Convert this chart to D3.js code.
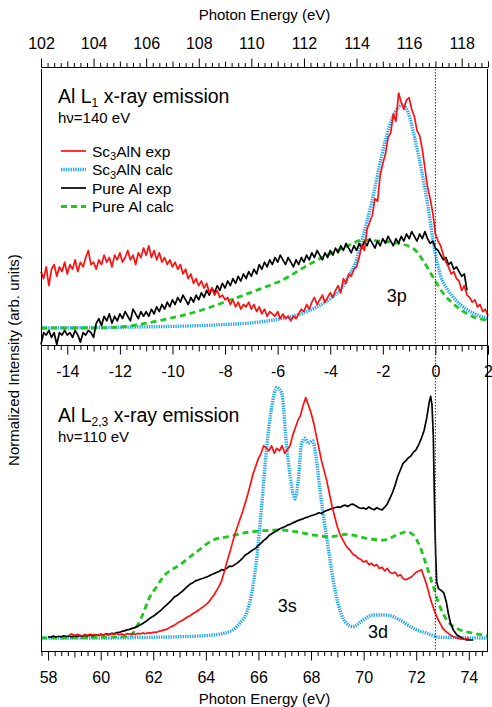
<!DOCTYPE html>
<html>
  <head>
    <meta charset="utf-8">
    <script src="https://d3js.org/d3.v7.min.js"></script>
    <title>Al L x-ray emission</title>
    <style>
      body { margin: 0px; background: #fff; }
      text { font-family: "Liberation Sans", Arial, sans-serif; fill: #000; }
      .tick text { font-size: 16px; }
      .axis-label { font-size: 15px; }
      .domain { stroke: #000; }
    </style>
  </head>
  <body>
    <svg width="492" height="707"></svg>
    <script>

      // ---- data: relative energy (eV) for the L1 panel, photon energy for L2,3 ----
      // Sc3AlN exp, L1, sampled every 0.1 eV from -15
      const redL1 = [
        0.24, 0.21, 0.26, 0.18, 0.25, 0.27, 0.22, 0.26, 0.24, 0.28,
        0.23, 0.27, 0.25, 0.29, 0.24, 0.28, 0.26, 0.30, 0.33, 0.27,
        0.28, 0.25, 0.29, 0.27, 0.31, 0.28, 0.30, 0.26, 0.31, 0.29,
        0.32, 0.28, 0.30, 0.33, 0.29, 0.31, 0.27, 0.32, 0.30, 0.34,
        0.31, 0.35, 0.30, 0.33, 0.29, 0.32, 0.28, 0.30, 0.27, 0.29,
        0.26, 0.28, 0.25, 0.27, 0.23, 0.25, 0.21, 0.23, 0.19, 0.21,
        0.18, 0.20, 0.17, 0.19, 0.15, 0.17, 0.14, 0.16, 0.13, 0.14,
        0.12, 0.13, 0.10, 0.12, 0.09, 0.11, 0.08, 0.10, 0.09, 0.11,
        0.08, 0.10, 0.07, 0.09, 0.06, 0.08, 0.05, 0.07, 0.06, 0.05,
        0.07, 0.04, 0.06, 0.04, 0.05, 0.03, 0.05, 0.04, 0.06, 0.08,
        0.07, 0.10, 0.08, 0.11, 0.13, 0.10, 0.12, 0.14, 0.11, 0.13,
        0.15, 0.13, 0.16, 0.18, 0.15, 0.21, 0.19, 0.23, 0.22, 0.25,
        0.26, 0.30, 0.35, 0.33, 0.42, 0.45, 0.48, 0.55, 0.54, 0.65,
        0.70, 0.74, 0.81, 0.83, 0.91, 0.88, 1.00, 0.96, 0.93, 0.97,
        0.98, 0.93, 0.90, 0.84, 0.82, 0.76, 0.68, 0.60, 0.55, 0.49,
        0.40, 0.37, 0.35, 0.31, 0.28, 0.26, 0.23, 0.24, 0.21, 0.20,
        0.16, 0.18, 0.14, 0.13, 0.11, 0.12, 0.09, 0.10, 0.07, 0.08,
        0.05
      ];
      // Pure Al exp, L1, every 0.1 eV from -15
      const blackL1 = [
        -0.07, -0.02, -0.03, -0.01, -0.04, -0.02, -0.07, -0.02, -0.03, -0.01,
        -0.03, -0.02, -0.04, -0.01, -0.03, -0.06, -0.02, -0.03, -0.01, -0.02,
        -0.04, 0.02, 0.04, 0.01, 0.05, 0.03, 0.06, 0.02, 0.05, 0.03,
        0.06, 0.04, 0.07, 0.05, 0.03, 0.08, 0.06, 0.04, 0.07, 0.05,
        0.07, 0.05, 0.08, 0.06, 0.09, 0.07, 0.10, 0.08, 0.11, 0.09,
        0.12, 0.10, 0.13, 0.11, 0.14, 0.12, 0.10, 0.13, 0.11, 0.14,
        0.12, 0.15, 0.13, 0.16, 0.14, 0.17, 0.15, 0.18, 0.16, 0.19,
        0.17, 0.20, 0.18, 0.21, 0.19, 0.22, 0.20, 0.23, 0.21, 0.24,
        0.22, 0.25, 0.23, 0.27, 0.25, 0.28, 0.26, 0.29, 0.27, 0.30,
        0.28, 0.31, 0.29, 0.27, 0.30, 0.28, 0.26, 0.29, 0.27, 0.30,
        0.28, 0.31, 0.29, 0.32, 0.30, 0.33, 0.31, 0.29, 0.32, 0.30,
        0.33, 0.31, 0.34, 0.32, 0.35, 0.33, 0.36, 0.34, 0.32, 0.35,
        0.33, 0.36, 0.34, 0.37, 0.35, 0.38, 0.36, 0.34, 0.37, 0.35,
        0.38, 0.36, 0.39, 0.37, 0.35, 0.38, 0.36, 0.39, 0.37, 0.40,
        0.38, 0.41, 0.39, 0.37, 0.40, 0.38, 0.41, 0.38, 0.36, 0.37,
        0.34, 0.33, 0.31, 0.29, 0.30, 0.27, 0.28, 0.25, 0.26, 0.24,
        0.22, 0.23, 0.16
      ];
      // Sc3AlN calc, L1 [E - 117 eV, intensity]
      const blueL1 = [
        [-15, 0], [-13, 0.002], [-11, 0.005], [-9, 0.01], [-8, 0.015], [-7, 0.022],
        [-6, 0.037], [-5, 0.065], [-4.5, 0.09], [-4, 0.125], [-3.5, 0.18], [-3.3, 0.22],
        [-3.0, 0.29], [-2.8, 0.37], [-2.4, 0.545], [-2.05, 0.73], [-1.67, 0.885],
        [-1.4, 0.94], [-1.25, 0.95], [-1.03, 0.915], [-0.8, 0.814], [-0.53, 0.672],
        [-0.28, 0.516], [-0.05, 0.346], [0.21, 0.218], [0.45, 0.165], [0.7, 0.128],
        [1.22, 0.077], [1.6, 0.055], [2, 0.04]
      ];
      // Pure Al calc, L1
      const greenL1 = [
        [-15, 0], [-12.9, 0], [-11.6, 0.009], [-10.4, 0.034], [-9.1, 0.069], [-7.8, 0.119],
        [-6.6, 0.169], [-5.9, 0.2], [-4.7, 0.277], [-3.4, 0.346], [-2.76, 0.374],
        [-2.1, 0.37], [-1.5, 0.362], [-0.86, 0.34], [-0.48, 0.289], [-0.1, 0.218],
        [0.29, 0.149], [0.81, 0.091], [1.43, 0.048], [2, 0.032]
      ];

      // Sc3AlN exp, L2,3, every 0.1 eV from 58.8 eV
      const redL23 = [
        0.012, 0.016, 0.010, 0.014, 0.012, 0.008, 0.014, 0.011, 0.015, 0.012,
        0.013, 0.010, 0.016, 0.012, 0.015, 0.011, 0.017, 0.014, 0.018, 0.013,
        0.016, 0.012, 0.017, 0.015, 0.019, 0.014, 0.018, 0.016, 0.020, 0.017,
        0.021, 0.019, 0.023, 0.022, 0.026, 0.028, 0.032, 0.034, 0.040, 0.046,
        0.050, 0.058, 0.064, 0.069, 0.076, 0.083, 0.088, 0.096, 0.102, 0.109,
        0.116, 0.124, 0.132, 0.141, 0.155, 0.168, 0.186, 0.204, 0.226, 0.262,
        0.300, 0.335, 0.372, 0.41, 0.44, 0.47, 0.50, 0.535, 0.57, 0.61,
        0.65, 0.68, 0.71, 0.73, 0.76, 0.75, 0.74, 0.76, 0.73, 0.75,
        0.74, 0.76, 0.73, 0.745, 0.76, 0.80, 0.83, 0.86, 0.88, 0.92,
        0.95, 0.92, 0.89, 0.85, 0.80, 0.75, 0.70, 0.66, 0.62, 0.57,
        0.52, 0.48, 0.44, 0.41, 0.39, 0.37, 0.355, 0.345, 0.33, 0.325,
        0.315, 0.31, 0.30, 0.305, 0.29, 0.295, 0.285, 0.29, 0.275, 0.28,
        0.265, 0.275, 0.26, 0.255, 0.26, 0.245, 0.25, 0.235, 0.23, 0.235,
        0.24, 0.25, 0.26, 0.265, 0.27, 0.24, 0.21, 0.17, 0.135, 0.105,
        0.08, 0.06, 0.04, 0.028, 0.02, 0.012, 0.006, 0.002, -0.002, -0.004,
        -0.005, -0.003, 0.0
      ];
      // Pure Al exp, L2,3, every 0.1 eV from 58.0 eV up to 72.5 eV
      const blackL23 = [
        0.005, 0.003, 0.008, 0.004, 0.007, 0.005, 0.009, 0.006, 0.008, 0.005,
        0.009, 0.006, 0.010, 0.007, 0.011, 0.008, 0.012, 0.009, 0.013, 0.011,
        0.014, 0.012, 0.016, 0.014, 0.018, 0.017, 0.021, 0.022, 0.026, 0.028,
        0.032, 0.034, 0.038, 0.041, 0.046, 0.051, 0.057, 0.064, 0.072, 0.080,
        0.086, 0.094, 0.102, 0.110, 0.121, 0.130, 0.140, 0.150, 0.162, 0.168,
        0.176, 0.184, 0.194, 0.204, 0.213, 0.218, 0.226, 0.229, 0.233, 0.236,
        0.240, 0.244, 0.250, 0.254, 0.259, 0.263, 0.270, 0.268, 0.276, 0.284,
        0.283, 0.290, 0.297, 0.306, 0.316, 0.328, 0.334, 0.342, 0.349, 0.355,
        0.366, 0.375, 0.386, 0.393, 0.405, 0.412, 0.418, 0.424, 0.431, 0.436,
        0.440, 0.446, 0.449, 0.455, 0.459, 0.464, 0.468, 0.471, 0.476, 0.479,
        0.483, 0.486, 0.490, 0.495, 0.492, 0.500, 0.504, 0.508, 0.512, 0.515,
        0.518, 0.516, 0.522, 0.525, 0.520, 0.527, 0.529, 0.523, 0.516, 0.512,
        0.514, 0.509, 0.518, 0.511, 0.507, 0.515, 0.510, 0.506, 0.517, 0.530,
        0.552, 0.575, 0.605, 0.640, 0.665, 0.690, 0.700, 0.712, 0.720, 0.735,
        0.745, 0.765, 0.790, 0.820, 0.870, 0.935
      ];
      // Pure Al exp, L2,3 Fermi edge and tail [photon energy, intensity]
      const blackL23Edge = [
        [72.55, 0.955], [72.6, 0.92], [72.65, 0.80], [72.68, 0.62], [72.71, 0.45],
        [72.74, 0.33], [72.78, 0.22], [72.85, 0.195], [72.95, 0.188], [73.05, 0.178],
        [73.15, 0.14], [73.22, 0.098], [73.3, 0.06], [73.41, 0.032], [73.55, 0.012],
        [73.66, 0.005], [73.8, -0.004], [73.92, -0.008], [74.17, -0.008]
      ];
      // Sc3AlN calc, L2,3
      const blueL23 = [
        [57.73, 0], [60, 0], [62, 0.003], [63, 0.005], [64.3, 0.012], [65.0, 0.03],
        [65.3, 0.06], [65.55, 0.1], [65.75, 0.18], [65.95, 0.33], [66.12, 0.52],
        [66.31, 0.75], [66.5, 0.91], [66.69, 0.99], [66.88, 0.97], [67.07, 0.76],
        [67.26, 0.60], [67.39, 0.55], [67.51, 0.62], [67.64, 0.77], [67.77, 0.79],
        [67.89, 0.77], [68.06, 0.78], [68.21, 0.70], [68.34, 0.585], [68.46, 0.49],
        [68.65, 0.36], [68.84, 0.23], [69.1, 0.11], [69.35, 0.058], [69.6, 0.045],
        [69.98, 0.071], [70.37, 0.091], [70.87, 0.091], [71.38, 0.071], [71.89, 0.038],
        [72.4, 0.019], [72.9, 0.003], [74.73, 0]
      ];
      // Pure Al calc, L2,3
      const greenL23 = [
        [57.73, 0], [61.1, 0.006], [61.37, 0.045], [61.62, 0.098], [61.81, 0.15],
        [62.13, 0.203], [62.38, 0.242], [63.02, 0.29], [63.65, 0.341], [64.28, 0.387],
        [64.92, 0.402], [65.55, 0.417], [66.82, 0.427], [67.45, 0.42], [68.08, 0.407],
        [68.72, 0.4], [69.35, 0.41], [70.11, 0.394], [70.75, 0.387], [71.26, 0.407],
        [71.64, 0.42], [71.89, 0.407], [72.14, 0.362], [72.4, 0.283], [72.65, 0.204],
        [72.9, 0.125], [73.16, 0.071], [73.54, 0.038], [74.17, 0.019], [74.73, 0.008]
      ];

      const topTickLabels = [102, 104, 106, 108, 110, 112, 114, 116, 118];
      const relTickLabels = [-14, -12, -10, -8, -6, -4, -2, 0, 2];
      const botTickLabels = [58, 60, 62, 64, 66, 68, 70, 72, 74];
      const l1Fermi = 117;      // eV, zero of the relative scale
      const l23Fermi = 72.73;   // eV

      const legendItems = [
        { name: 'Sc', sub: '3', rest: 'AlN exp', cls: 'red' },
        { name: 'Sc', sub: '3', rest: 'AlN calc', cls: 'blue' },
        { name: 'Pure Al exp', sub: '', rest: '', cls: 'black' },
        { name: 'Pure Al calc', sub: '', rest: '', cls: 'green' }
      ];

      // ---- layout ----
      const left = 41, right = 488;
      const frameTop = 69, midY = 345, bottomY = 651, topAxisY = 67;

      const svg = d3.select('svg');

      const styles = {
        red: { stroke: '#ff1010', width: 1.7, dash: null },
        black: { stroke: '#000', width: 1.7, dash: null },
        blue: { stroke: '#2aa8f2', width: 3.4, dash: '1.4,1' },
        green: { stroke: '#1ec81e', width: 2.8, dash: '6,4' }
      };

      const xRel = d3.scaleLinear().domain([-15, 2]).range([left, right]);
      const xTop = d3.scaleLinear()
        .domain([l1Fermi - 15, l1Fermi + 2]).range([left, right]);
      const xBot = d3.scaleLinear()
        .domain([l23Fermi - 15, l23Fermi + 2]).range([left, right]);
      const yTop = d3.scaleLinear().domain([0, 1]).range([328, 93]);
      const yBot = d3.scaleLinear().domain([0, 1]).range([638, 385]);

      const gridL1 = d3.range(redL1.length).map(i => -15 + i * 0.1);
      const redL1Pts = redL1.map((v, i) => [gridL1[i], v]);
      const blackL1Pts = blackL1.map((v, i) => [gridL1[i], v]);
      const redL23Pts = redL23.map((v, i) => [58.8 + i * 0.1, v]);
      const blackL23Pts = blackL23.map((v, i) => [58.0 + i * 0.1, v]).concat(blackL23Edge);

      function drawLine(data, x, y, cls, curve) {
        const s = styles[cls];
        const line = d3.line()
          .x(d => x(d[0]))
          .y(d => y(d[1]))
          .curve(curve || d3.curveLinear);
        svg.append('path')
          .datum(data)
          .attr('d', line)
          .attr('fill', 'none')
          .attr('stroke', s.stroke)
          .attr('stroke-width', s.width)
          .attr('stroke-dasharray', s.dash)
          .attr('stroke-linejoin', 'round');
      }

      // curves, top panel
      drawLine(blueL1, xRel, yTop, 'blue', d3.curveMonotoneX);
      drawLine(greenL1, xRel, yTop, 'green', d3.curveMonotoneX);
      drawLine(blackL1Pts, xRel, yTop, 'black');
      drawLine(redL1Pts, xRel, yTop, 'red');

      // curves, bottom panel
      drawLine(blueL23, xBot, yBot, 'blue', d3.curveMonotoneX);
      drawLine(greenL23, xBot, yBot, 'green', d3.curveMonotoneX);
      drawLine(blackL23Pts, xBot, yBot, 'black');
      drawLine(redL23Pts, xBot, yBot, 'red');

      // frame + Fermi level marker
      svg.append('line')
        .attr('x1', left + 0.5).attr('x2', left + 0.5)
        .attr('y1', frameTop).attr('y2', bottomY)
        .attr('stroke', '#000');
      svg.append('line')
        .attr('x1', right - 0.5).attr('x2', right - 0.5)
        .attr('y1', frameTop).attr('y2', bottomY)
        .attr('stroke', '#000');
      svg.append('line')
        .attr('x1', xRel(0)).attr('x2', xRel(0))
        .attr('y1', frameTop).attr('y2', bottomY)
        .attr('stroke', '#333')
        .attr('stroke-width', 1)
        .attr('stroke-dasharray', '1.5,1.5');

      // ---- axes ----
      function quarterTicks(scale) {
        const [a, b] = scale.domain();
        const start = Math.ceil(a * 4 - 1e-6);
        const end = Math.floor(b * 4 + 1e-6);
        return d3.range(start, end + 1).map(k => k / 4);
      }
      function tickLen(v) {
        if (Math.abs(v - Math.round(v)) > 1e-6) return 4.5;
        return Math.round(v) % 2 === 0 ? 9 : 6;
      }

      function makeAxis(scale, labels, y, dir) {
        const axis = (dir === 'up' ? d3.axisTop(scale) : d3.axisBottom(scale))
          .tickValues(quarterTicks(scale))
          .tickSizeOuter(0)
          .tickFormat(d => labels.some(l => Math.abs(l - d) < 1e-6) ? String(Math.round(d)) : '');
        const g = svg.append('g')
          .attr('transform', `translate(0,${y + 0.5})`)
          .call(axis);
        g.select('.domain').attr('d', `M${left},0H${right}`);
        g.selectAll('.tick line')
          .attr('y2', d => (dir === 'up' ? -1 : 1) * tickLen(d));
        g.selectAll('.tick text')
          .attr('y', dir === 'up' ? -19 : 20)
          .attr('dy', dir === 'up' ? '0em' : '0.71em');
        return g;
      }

      makeAxis(xTop, topTickLabels, topAxisY, 'up');
      makeAxis(xRel, relTickLabels, midY, 'down');
      makeAxis(xBot, botTickLabels, bottomY, 'down');

      svg.append('text')
        .attr('class', 'axis-label')
        .attr('x', (left + right) / 2)
        .attr('y', 20)
        .attr('text-anchor', 'middle')
        .text('Photon Energy (eV)');
      svg.append('text')
        .attr('class', 'axis-label')
        .attr('x', (left + right) / 2)
        .attr('y', 704)
        .attr('text-anchor', 'middle')
        .text('Photon Energy (eV)');
      svg.append('text')
        .attr('class', 'axis-label')
        .attr('transform', 'translate(19,360) rotate(-90)')
        .attr('text-anchor', 'middle')
        .text('Normalized Intensity (arb. units)');

      // ---- annotations ----
      function title(y, sub, energy) {
        const t = svg.append('text')
          .attr('x', 58).attr('y', y)
          .style('font-size', '19.5px');
        t.append('tspan').text('Al L');
        t.append('tspan').attr('dy', 3.5).style('font-size', '12px').text(sub);
        t.append('tspan').attr('dy', -3.5).text(' x-ray emission');
        svg.append('text')
          .attr('x', 58).attr('y', y + 20)
          .style('font-size', '15px')
          .text(energy);
      }
      title(103, '1', 'h\u03bd=140 eV');
      title(422, '2,3', 'h\u03bd=110 eV');

      const legend = svg.append('g');
      legendItems.forEach((d, i) => {
        const y = 151 + i * 18.5;
        const s = styles[d.cls];
        legend.append('line')
          .attr('x1', 61).attr('x2', 86)
          .attr('y1', y).attr('y2', y)
          .attr('stroke', s.stroke)
          .attr('stroke-width', s.width)
          .attr('stroke-dasharray', s.dash);
        const t = legend.append('text')
          .attr('x', 92).attr('y', y + 5.5)
          .style('font-size', '15.5px');
        t.append('tspan').text(d.name);
        if (d.sub) {
          t.append('tspan').attr('dy', 3.5).style('font-size', '11px').text(d.sub);
          t.append('tspan').attr('dy', -3.5).text(d.rest);
        }
      });

      const peakLabels = [
        { text: '3p', x: xRel(-1.47), y: yTop(0.11) },
        { text: '3s', x: xBot(67.1), y: yBot(0.102) },
        { text: '3d', x: xBot(70.55), y: yBot(0.0) }
      ];
      svg.selectAll('.peak').data(peakLabels)
        .enter().append('text')
          .attr('class', 'peak')
          .attr('x', d => d.x)
          .attr('y', d => d.y)
          .attr('text-anchor', 'middle')
          .style('font-size', '18px')
          .text(d => d.text);
    </script>
  </body>
</html>
